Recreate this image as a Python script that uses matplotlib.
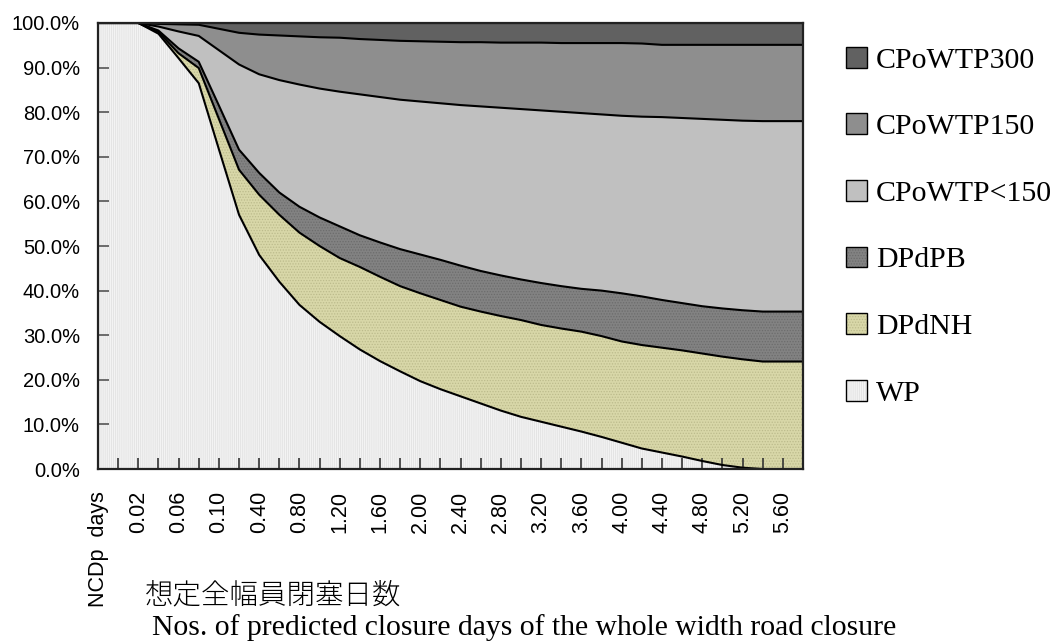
import matplotlib
matplotlib.use('Agg')
import matplotlib.pyplot as plt
from matplotlib.patches import Patch
import numpy as np

# 想定全幅員閉塞日数 (NCDp days) category labels, every other one is shown
categories = ['NCDp  days', '0.01', '0.02', '0.04', '0.06', '0.08', '0.10', '0.20',
              '0.40', '0.60', '0.80', '1.00', '1.20', '1.40', '1.60', '1.80',
              '2.00', '2.20', '2.40', '2.60', '2.80', '3.00', '3.20', '3.40',
              '3.60', '3.80', '4.00', '4.20', '4.40', '4.60', '4.80', '5.00',
              '5.20', '5.40', '5.60', '5.80']

# shares in %, bottom to top
wp = [100.0, 100.0, 100.0, 97.6, 92.1, 86.5, 71.7, 57.0, 48.0, 42.0, 36.8, 33.0,
      29.8, 26.8, 24.2, 21.9, 19.7, 17.9, 16.3, 14.7, 13.1, 11.7, 10.6, 9.5,
      8.4, 7.2, 5.9, 4.6, 3.7, 2.8, 1.8, 0.9, 0.3, 0.0, 0.0, 0.0]
dpdnh = [0.0, 0.0, 0.0, 0.4, 1.1, 3.4, 6.8, 10.1, 13.5, 15.0, 16.2, 17.0,
         17.5, 18.5, 18.9, 19.1, 19.7, 20.0, 20.1, 20.6, 21.2, 21.7, 21.7, 22.0,
         22.4, 22.6, 22.7, 23.2, 23.5, 23.8, 24.1, 24.3, 24.3, 24.1, 24.1, 24.1]
dpdpb = [0.0, 0.0, 0.0, 0.3, 1.1, 1.4, 3.0, 4.5, 4.9, 5.0, 5.8, 6.4,
         7.1, 7.1, 7.7, 8.3, 8.7, 9.0, 9.2, 9.1, 9.1, 9.1, 9.4, 9.5,
         9.6, 10.2, 10.8, 10.9, 10.7, 10.6, 10.6, 10.8, 11.0, 11.2, 11.2, 11.2]
cpo_lt150 = [0.0, 0.0, 0.0, 0.9, 3.8, 5.8, 12.4, 19.1, 22.1, 25.2, 27.4, 28.9,
             30.2, 31.6, 32.6, 33.5, 34.3, 35.1, 36.0, 36.9, 37.6, 38.2, 38.7, 39.1,
             39.4, 39.5, 39.8, 40.3, 41.0, 41.5, 42.0, 42.3, 42.5, 42.7, 42.7, 42.7]
cpo150 = [0.0, 0.0, 0.0, 0.6, 1.6, 2.5, 4.8, 7.1, 8.9, 10.0, 10.8, 11.5,
          12.1, 12.4, 12.8, 13.2, 13.5, 13.8, 14.1, 14.4, 14.6, 14.9, 15.2, 15.4,
          15.7, 16.0, 16.3, 16.4, 16.2, 16.4, 16.6, 16.8, 17.0, 17.1, 17.1, 17.1]
cpo300 = [0.0, 0.0, 0.0, 0.2, 0.3, 0.4, 1.3, 2.2, 2.6, 2.8, 3.0, 3.2,
          3.3, 3.6, 3.8, 4.0, 4.1, 4.2, 4.3, 4.3, 4.4, 4.4, 4.4, 4.5,
          4.5, 4.5, 4.5, 4.6, 4.9, 4.9, 4.9, 4.9, 4.9, 4.9, 4.9, 4.9]

series = [('WP', wp, '#f3f3f3', '#e2e2e2', '||||||||'),
          ('DPdNH', dpdnh, '#d8d7a8', '#bcbb8c', '......'),
          ('DPdPB', dpdpb, '#828282', '#6c6c6c', '......'),
          ('CPoWTP<150', cpo_lt150, '#c0c0c0', None, None),
          ('CPoWTP150', cpo150, '#8e8e8e', None, None),
          ('CPoWTP300', cpo300, '#616161', None, None)]

plt.rcParams['hatch.linewidth'] = 0.6

fig = plt.figure(figsize=(10.6, 6.44), dpi=100)
ax = fig.add_axes([0.0925, 0.2717, 0.665, 0.6926])

x = np.arange(len(categories))
bottom = np.zeros(len(categories))
handles = []
for name, vals, fc, hc, hatch in series:
    top = bottom + np.array(vals)
    if hatch:
        ax.fill_between(x, bottom, top, facecolor=fc, edgecolor=hc, hatch=hatch,
                        linewidth=0)
        h = (Patch(facecolor=fc, edgecolor=hc, hatch=hatch, linewidth=0),
             Patch(facecolor='none', edgecolor='black', linewidth=1))
    else:
        ax.fill_between(x, bottom, top, facecolor=fc, linewidth=0)
        h = Patch(facecolor=fc, edgecolor='black', linewidth=1)
    ax.plot(x, top, color='black', lw=1.5)
    handles.append((h, name))
    bottom = top

ax.set_xlim(0, len(categories) - 1)
ax.set_ylim(0, 100)

ax.set_xticks(x)
ax.set_xticklabels([c if i % 2 == 0 else '' for i, c in enumerate(categories)],
                   rotation=90, family='Liberation Sans', fontsize=15.5)
yt = np.arange(0, 101, 10)
ax.set_yticks(yt)
ax.set_yticklabels([f'{v:.1f}%' for v in yt], family='Liberation Sans', fontsize=14.5)
ax.tick_params(axis='x', direction='in', length=8, width=1.2, color='#333333', pad=16)
ax.tick_params(axis='y', direction='in', length=8, width=1.2, color='#555555', pad=13)
for s in ax.spines.values():
    s.set_linewidth(1.6)
    s.set_color('#222222')

handles = handles[::-1]
fig.legend([h for h, n in handles], [n for h, n in handles],
           loc='upper left', bbox_to_anchor=(0.787, 0.946), frameon=False,
           prop={'family': 'Liberation Serif', 'size': 21.5},
           handlelength=0.7, handleheight=0.7, handletextpad=0.3,
           labelspacing=1.33, borderaxespad=0)

fig.text(0.137, 0.076, '想定全幅員閉塞日数', family=['Noto Sans CJK JP', 'DejaVu Sans'],
         fontsize=20.5, fontweight='light', va='center')
fig.text(0.143, 0.026, 'Nos. of predicted closure days of the whole width road closure',
         family='Liberation Serif', fontsize=21.3, va='center')

fig.savefig('out.png', dpi=100)
